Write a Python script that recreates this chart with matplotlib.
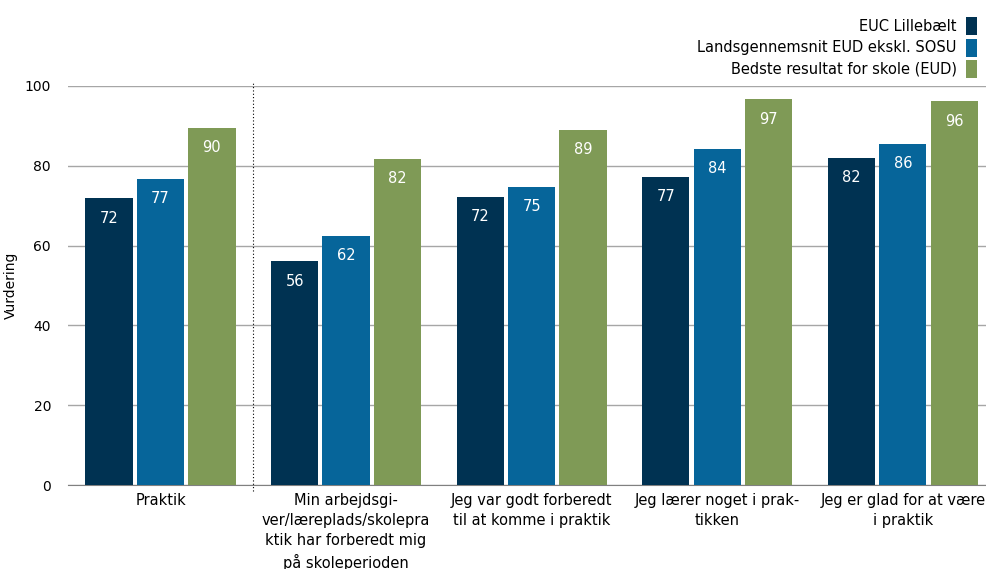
import numpy as np
import matplotlib.pyplot as plt

categories = [
    "Praktik",
    "Min arbejdsgi-\nver/læreplads/skolepra\nktik har forberedt mig\npå skoleperioden",
    "Jeg var godt forberedt\ntil at komme i praktik",
    "Jeg lærer noget i prak-\ntikken",
    "Jeg er glad for at være\ni praktik",
]
series_names = ["EUC Lillebælt", "Landsgennemsnit EUD ekskl. SOSU", "Bedste resultat for skole (EUD)"]
euc = [71.9, 56.1, 72.2, 77.2, 82.0]
lands = [76.7, 62.4, 74.7, 84.2, 85.5]
bedste = [89.5, 81.7, 89.0, 96.7, 96.2]
colors = ["#003252", "#06659a", "#7f9a56"]

plt.rcParams["font.family"] = ["DejaVu Sans"]
fig = plt.figure(figsize=(9.86, 5.69), dpi=100)
ax = fig.add_axes([0.0687, 0.1476, 0.941, 0.7013])

x = np.arange(len(categories))
w = 0.255
step = 0.277
handles = []
for i, (vals, c, name) in enumerate(zip([euc, lands, bedste], colors, series_names)):
    bars = ax.bar(x + (i - 1) * step, vals, w, color=c, label=name, zorder=3)
    handles.append(bars)
    for b, v in zip(bars, vals):
        ax.text(b.get_x() + b.get_width() / 2, v - 5, "%d" % round(v),
                ha="center", va="center", color="white", fontsize=10.5, zorder=4)

ax.set_xlim(-0.5, len(categories) - 0.5)
ax.set_ylim(0, 100)
ax.set_yticks(range(0, 101, 20))
ax.yaxis.grid(True, color="#a6a6a6", linewidth=1, zorder=0)
ax.set_axisbelow(True)
for s in ["top", "right", "left"]:
    ax.spines[s].set_visible(False)
ax.spines["bottom"].set_color("#808080")
ax.tick_params(axis="y", length=0, labelsize=10, pad=12)
ax.tick_params(axis="x", length=0, labelsize=10.5, pad=6)
ax.set_xticks(x)
ax.set_xticklabels(categories, linespacing=1.4)
ax.set_ylabel("Vurdering", fontsize=10)
ax.yaxis.set_label_coords(-0.054, 0.5)

ax.plot([0.5, 0.5], [-1.5, 101], color="black", linestyle=(0, (1, 2)), linewidth=0.8,
        clip_on=False, zorder=2)

fig.legend(handles=handles, loc="upper right", bbox_to_anchor=(1.0, 0.985), frameon=False,
           markerfirst=False, fontsize=10.5, handlelength=0.8, handleheight=1.5,
           handletextpad=0.6, labelspacing=0.25, borderaxespad=0.2)
for t in fig.legends[0].get_texts():
    t.set_ha("right")
fig.legends[0]._legend_box.align = "right"

fig.savefig("out.png", dpi=100)
